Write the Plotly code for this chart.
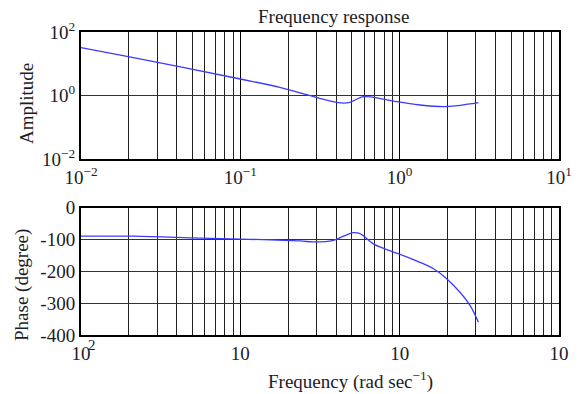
import plotly.graph_objects as go

# ---- data ----
amp_freq = [0.01, 0.0198, 0.1, 0.177, 0.237, 0.412, 0.477, 0.591, 0.684, 0.959, 1.34, 1.88, 2.39, 3.12]
amp_vals = [32, 16.7, 3.31, 1.81, 1.22, 0.593, 0.593, 0.916, 0.877, 0.638, 0.502, 0.444, 0.491, 0.593]

ph_freq = [0.01, 0.0212, 0.0558, 0.1, 0.237, 0.287, 0.384, 0.443, 0.512, 0.564, 0.684, 0.830, 1.006,
           1.34, 1.63, 1.98, 2.39, 2.77, 3.12]
ph_vals = [-90, -90, -96, -99, -105, -108, -103, -90, -79, -82, -114, -132, -147,
           -172, -192, -224, -266, -308, -360]

top_x_ticks = [0.01, 0.1, 1, 10]
top_x_text = ["10<sup>−2</sup>", "10<sup>−1</sup>", "10<sup>0</sup>", "10<sup>1</sup>"]
top_y_ticks = [0.01, 1, 100]
top_y_text = ["10<sup>−2</sup>", "10<sup>0</sup>", "10<sup>2</sup>"]
bot_x_text = ["10", "10", "10", "10"]
bot_y_ticks = [-400, -300, -200, -100, 0]
bot_y_text = ["-400", "-300", "-200", "-100", "0"]

minor_vals = [m * 10 ** e for e in (-2, -1, 0) for m in range(2, 10)]

# the page body adds an 8 px margin, so the figure is laid out 8 px smaller
OFF = 8
W, H = 583 - OFF, 394 - OFF


def px(x):
    return (x - OFF) / W


def py(y):
    return 1 - (y - OFF) / H


FONT = "Liberation Serif, Times New Roman, serif"
FS = 19
TXT = "#1c1c28"
LINE = "#3b3bff"

fig = go.Figure()
fig.add_trace(go.Scatter(x=amp_freq, y=amp_vals, mode="lines", line=dict(color=LINE, width=1.3, shape="spline"),
                         xaxis="x", yaxis="y", showlegend=False))
fig.add_trace(go.Scatter(x=ph_freq, y=ph_vals, mode="lines", line=dict(color=LINE, width=1.3, shape="spline"),
                         xaxis="x2", yaxis="y2", showlegend=False))

xd = [px(81), px(559)]
common_x = dict(type="log", range=[-2, 1], domain=xd, showline=True, linecolor="black", linewidth=2,
                mirror=True, showgrid=True, gridcolor="black", gridwidth=1, ticks="", zeroline=False,
                automargin=False, tickfont=dict(family=FONT, size=FS, color=TXT),
                minor=dict(tickmode="array", tickvals=minor_vals, showgrid=True, gridcolor="#222", gridwidth=1, ticks=""))
common_y = dict(showline=True, linecolor="black", linewidth=2, mirror=True,
                showgrid=True, gridcolor="#333", gridwidth=1, ticks="", zeroline=False,
                automargin=False, tickfont=dict(family=FONT, size=FS, color=TXT))


def note(text, x, y, size=FS, angle=0):
    return dict(text=text, x=px(x), y=py(y), xref="paper", yref="paper", xanchor="center", yanchor="middle",
                textangle=angle, showarrow=False, font=dict(size=size, family=FONT, color=TXT))


fig.update_layout(
    template="none",
    width=W, height=H, margin=dict(l=0, r=0, t=0, b=0, pad=0),
    paper_bgcolor="white", plot_bgcolor="white",
    font=dict(family=FONT, color=TXT, size=FS),
    xaxis=dict(common_x, anchor="y", tickmode="array", tickvals=top_x_ticks, ticktext=top_x_text),
    yaxis=dict(common_y, type="log", range=[-2, 2], domain=[py(159), py(32)], anchor="x",
               tickmode="array", tickvals=top_y_ticks, ticktext=top_y_text),
    xaxis2=dict(common_x, anchor="y2", tickmode="array", tickvals=top_x_ticks, ticktext=bot_x_text),
    yaxis2=dict(common_y, range=[-400, 0], domain=[py(335), py(207.5)], anchor="x2",
                tickmode="array", tickvals=bot_y_ticks, ticktext=bot_y_text),
    annotations=[
        note("Frequency response", 333, 17),
        note("Amplitude", 26, 104, angle=-90),
        note("Phase (degree)", 22, 285, angle=-90),
        note("Frequency (rad sec<sup>−1</sup>)", 350, 380),
        note("2", 92, 345, size=15),
    ],
)

fig.write_html("out.html")
